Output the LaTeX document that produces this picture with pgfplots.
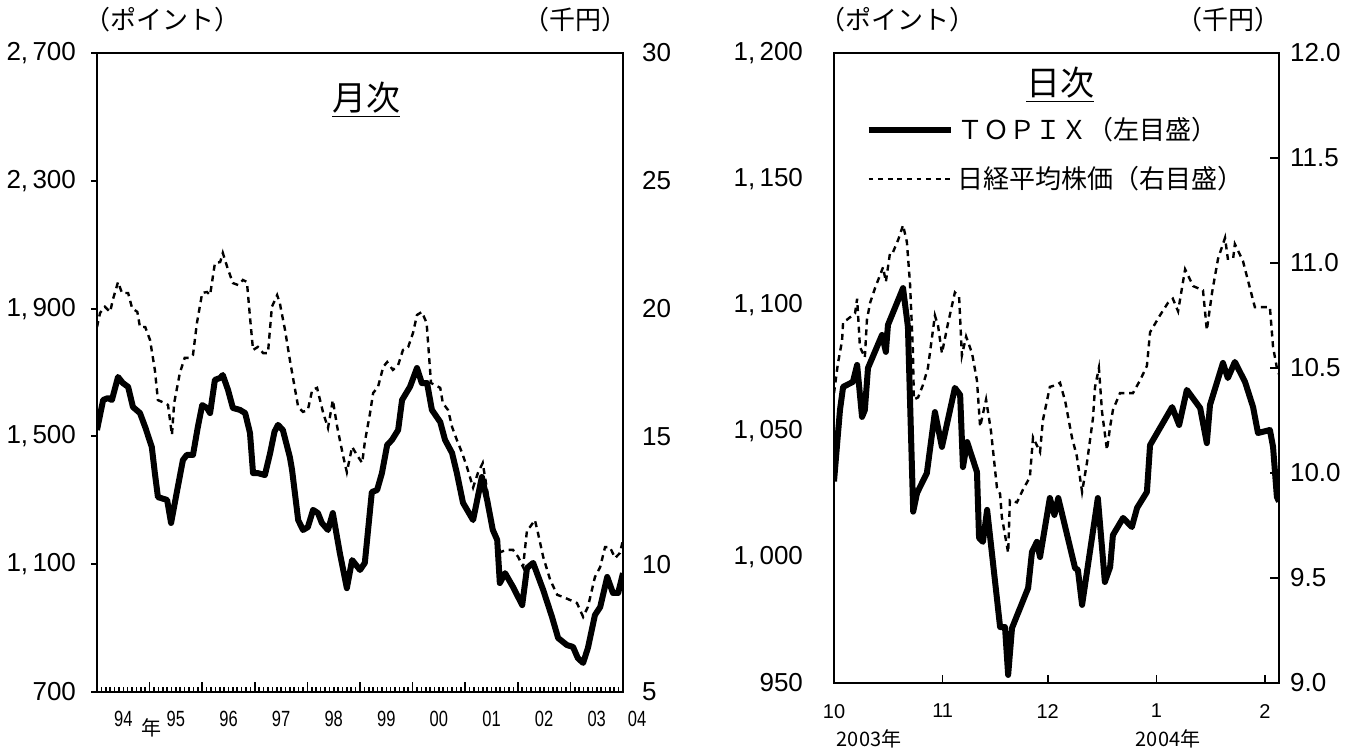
\documentclass[border=0pt]{standalone}
\usepackage{pgfplots}
\pgfplotsset{compat=1.18}
\usepackage{graphicx}
\usepackage{fontspec}
\setmainfont{Liberation Sans}
\newfontfamily\jp{Noto Sans CJK JP}

\newcommand\sq[1]{\scalebox{0.75}[1]{#1}}

\pgfplotsset{
  base/.style={scale only axis, anchor=south west,
    axis line style={line width=1.4pt},
    tick label style={font=\fontsize{13}{13}\selectfont},
    /pgf/number format/assume math mode=true,
    /pgf/number format/1000 sep={,\,}},
  topix/.style={black, line width=3pt, line join=round},
  nikkei/.style={black, line width=1.2pt, dash pattern=on 3pt off 2.4pt},
}

\begin{document}
\begin{tikzpicture}
\useasboundingbox (0,0) rectangle (677pt,374.5pt);

% ---- monthly (left) ----
\begin{axis}[base, at={(48.5pt,28.5pt)}, width=263pt, height=319.5pt,
  xmin=0, xmax=120, ymin=700, ymax=2700,
  xtick=\empty, ytick={700,1100,...,2700}, ytick pos=left,
  tick align=outside, major tick length=3pt,
  ytick style={line width=1pt, black},
  yticklabel style={xshift=-4pt}]
\addplot[topix] coordinates {
(0,1520) (1.4,1614) (2.5,1620) (3.4,1614) (4.8,1686) (5.9,1667) (7.1,1655)
(8.2,1592) (9.8,1573) (11,1529) (12.5,1467) (13.2,1385) (13.9,1310) (16,1301)
(16.9,1229) (18.3,1332) (19.6,1426) (20.5,1442) (21.9,1442) (23,1529) (24,1598)
(25.1,1589) (25.8,1573) (26.9,1677) (28.1,1683) (28.7,1692) (29.9,1645) (31,1589)
(32.6,1583) (33.8,1573) (34.9,1511) (35.6,1385) (36.7,1385) (38.3,1379) (39.5,1448)
(40.5,1515) (41.3,1536) (42.4,1520) (44,1435) (44.5,1395) (45.9,1238) (47,1207)
(48.1,1216) (49.3,1270) (50.4,1260) (51.3,1229) (52.7,1207) (53.8,1260) (55.4,1135)
(57,1025) (58.2,1113) (60,1082) (61.1,1104) (62.7,1326) (63.9,1332) (65,1385)
(66.2,1473) (67.3,1489) (68.7,1520) (69.6,1614) (71.4,1655) (73,1714) (74.1,1667)
(75.3,1667) (76.4,1583) (78.3,1545) (79.4,1489) (81,1448) (82.1,1385) (83.5,1292)
(85.8,1238) (87.8,1373) (89,1301) (90.3,1207) (91.3,1176) (91.9,1041) (93.1,1072)
(94.9,1029) (97,972) (98.1,1088) (99.5,1104) (101.8,1019) (103.8,935) (105.2,869)
(107.2,847) (108.6,841) (109.7,806) (110.9,791) (112,838) (113.6,941) (114.8,966)
(116.4,1060) (117.7,1010) (118.9,1010) (120,1072)};
\end{axis}

\begin{axis}[base, at={(48.5pt,28.5pt)}, width=263pt, height=319.5pt,
  xmin=0, xmax=120, ymin=5, ymax=30, clip mode=individual,
  axis y line*=right, axis x line*=bottom,
  ytick={5,10,...,30}, ytick style={draw=none},
  yticklabel style={xshift=6pt},
  xtick={0,12,...,120}, minor x tick num=11, xticklabels={},
  tick align=inside, major tick length=5pt, minor tick length=2.5pt,
  xtick style={line width=0.8pt, black},
  extra x ticks={6,18,...,114},
  extra x tick labels={\sq{94},\sq{95},\sq{96},\sq{97},\sq{98},\sq{99},\sq{00},\sq{01},\sq{02},\sq{03}},
  extra x tick style={tick style={draw=none},
    xticklabel style={yshift=-6pt, font=\fontsize{11}{11}\selectfont}}]
\addplot[nikkei] coordinates {
(0,19.28) (0.7,19.83) (1.8,20.07) (3,19.87) (3.6,20.34) (4.8,21.04) (5.7,20.61)
(7.1,20.61) (8,20.02) (9.2,19.87) (9.8,19.28) (11,19.28) (12.1,18.77) (13.2,17.6)
(13.9,16.42) (15.5,16.3) (16.2,16.23) (17.1,15.06) (17.6,16.3) (18.9,17.48) (20,18.07)
(21.2,18.07) (21.9,18.19) (22.8,19.44) (24,20.61) (25.1,20.65) (25.8,20.53) (26.9,21.78)
(28.1,21.82) (28.7,22.18) (29.7,21.63) (31,21) (32.2,20.92) (33.3,21.12) (34.2,21.04)
(34.9,19.67) (35.6,18.38) (36.7,18.5) (37.9,18.26) (39,18.26) (39.9,20.07) (41.1,20.53)
(41.7,20.22) (42.9,19.16) (44,17.99) (45.2,16.82) (45.9,16.15) (47,15.96) (48.1,16.03)
(49.1,16.82) (50.2,16.9) (51.6,15.92) (52.7,15.33) (53.8,16.42) (54.8,15.37) (56.1,14.27)
(57,13.6) (58.2,14.59) (59.3,14.27) (60.5,13.96) (61.1,14.78) (62.3,15.92) (63,16.7)
(64.1,16.93) (65.3,17.72) (66.2,17.91) (67.5,17.6) (68.7,17.79) (69.8,18.38) (71,18.5)
(72.1,19.05) (73,19.75) (74.1,19.87) (75.2,19.44) (76.2,17.09) (77.1,17.01) (78.3,16.9)
(78.9,16.3) (80.1,16.03) (81,15.37) (82.1,14.86) (83.3,14.35) (84.4,13.8) (85.8,13)
(86.9,13.57) (88,13.96) (89,12.9) (90.3,11.46) (91.5,10.44) (93.4,10.56) (94.9,10.56)
(96.1,10.28) (97.2,9.89) (98.1,11.34) (98.8,11.46) (99.9,11.73) (100.6,11.22) (101.8,10.28)
(103.4,9.38) (105,8.8) (106.3,8.72) (107.9,8.6) (109.5,8.48) (110.9,7.94) (112,8.33)
(113.6,9.5) (114.8,9.89) (115.9,10.67) (117,10.67) (118.2,10.24) (119.3,10.44) (120,10.95)};
\node[font=\jp\fontsize{10}{10}\selectfont, anchor=north] at (rel axis cs:0.1,0) [xshift=1pt, yshift=-10pt] {年};
\node[font=\fontsize{11}{11}\selectfont, anchor=north] at (rel axis cs:1,0) [xshift=7pt, yshift=-6pt] {\sq{04}};
\end{axis}

% ---- daily (right) ----
\begin{axis}[base, at={(417pt,33pt)}, width=222.5pt, height=315pt,
  xmin=0, xmax=127, ymin=950, ymax=1200,
  ytick={950,1000,...,1200}, ytick pos=left, ytick style={draw=none},
  yticklabel style={xshift=-12pt},
  xtick={0,31,61,92,123}, xticklabels={10,11,12,1,2}, xtick pos=bottom,
  tick align=inside, major tick length=4pt,
  xtick style={line width=0.8pt, black},
  xticklabel style={yshift=-7pt, font=\fontsize{10}{10}\selectfont},
  legend style={draw=none, fill=none, at={(0.07,0.905)}, anchor=north west,
    inner sep=0pt, row sep=8pt, font=\jp\fontsize{13}{13}\selectfont},
  legend cell align=left,
  legend image code/.code={\draw[#1] (0pt,0pt) -- (41pt,0pt);}]
\addplot[topix] coordinates {
(0,1030) (1.7,1058.3) (2.6,1067.5) (5.4,1069.5) (6.6,1076.2) (8,1055.6) (8.8,1058.3)
(9.7,1075) (13.7,1088.1) (14.8,1081.4) (15.4,1092.1) (19.7,1106.7) (21.1,1091.3)
(22.6,1018) (23.7,1025.4) (26.5,1033.3) (28.8,1057.5) (30.8,1043.7) (34.5,1067.1)
(36,1064.3) (36.8,1035.7) (38,1045.6) (40.8,1033.7) (41.4,1007.6) (42.5,1006)
(43.7,1018.7) (47.4,972.2) (48.8,972.2) (49.7,953.2) (50.8,971.8) (55.4,987.7)
(56.5,1002) (57.9,1006) (58.8,1000) (61.6,1023.4) (62.9,1016.7) (64,1023.4)
(68.8,995.6) (69.6,994.9) (70.8,981) (75.3,1023.4) (77.3,990.1) (78.8,996)
(79.6,1008.7) (82.5,1015.5) (85,1011.9) (86.5,1019.5) (89.3,1025.8) (90.2,1044.4)
(96.5,1059.5) (98.5,1052.4) (100.7,1066.3) (104.5,1059.1) (106.4,1045.2) (107.3,1060.3)
(111,1077) (112.4,1071) (114.4,1077.4) (117.3,1069.5) (119.6,1059.5) (121,1049.2)
(124.4,1050.4) (125.3,1043.7) (126.4,1023.8) (127,1022)};
\addlegendentry{ＴＯＰＩＸ（左目盛）}
\addlegendimage{nikkei, dash pattern=on 2.4pt off 2.4pt}
\addlegendentry{日経平均株価（右目盛）}
\end{axis}

\begin{axis}[base, at={(417pt,33pt)}, width=222.5pt, height=315pt,
  xmin=0, xmax=127, ymin=9, ymax=12,
  axis y line*=right, axis x line=none,
  ytick={9,9.5,...,12}, tick align=inside, major tick length=4.5pt,
  ytick style={line width=0.8pt, black},
  yticklabel style={xshift=2pt, /pgf/number format/.cd, fixed, fixed zerofill, precision=1}]
\addplot[nikkei] coordinates {
(0,10.38) (1.1,10.52) (2.3,10.63) (2.6,10.72) (3.7,10.73) (6,10.76) (6.6,10.83)
(7.4,10.6) (8.8,10.55) (9.4,10.73) (10.3,10.81) (11.7,10.88) (14,10.98) (14.8,10.91)
(16,11.05) (16.8,11.05) (18.3,11.11) (19.7,11.18) (20.8,11.1) (21.7,10.9) (22.5,10.59)
(22.8,10.35) (24,10.36) (25.4,10.42) (26.8,10.5) (28,10.65) (28.8,10.75) (29.7,10.7)
(30.8,10.57) (32.5,10.71) (34.5,10.86) (35.7,10.84) (36.5,10.56) (37.7,10.65) (39.4,10.57)
(40.8,10.44) (41.7,10.22) (43.4,10.35) (44.8,10.2) (46.5,9.93) (47.4,9.9) (47.9,9.79)
(49.7,9.62) (50.2,9.87) (52.2,9.86) (53.9,9.92) (55.9,9.98) (56.8,10.17) (58.8,10.1)
(59.6,10.25) (61.6,10.41) (63.6,10.42) (64.5,10.43) (66,10.34) (67.9,10.17) (69.3,10.08)
(70.8,9.91) (72.2,10.05) (73.9,10.26) (74.5,10.41) (75.6,10.5) (76.5,10.29) (77.9,10.11)
(78.8,10.22) (79.6,10.3) (81.6,10.38) (85.3,10.38) (87.3,10.44) (89.3,10.51) (90.2,10.67)
(93,10.75) (95.3,10.81) (96.7,10.83) (98.2,10.77) (100.2,10.97) (102.5,10.89) (105.3,10.87)
(106.4,10.68) (107.9,10.86) (109.6,11.02) (111.6,11.12) (112.4,11.02) (113.9,11.02)
(114.4,11.09) (116.7,11.01) (120.1,10.79) (124.4,10.79) (125.3,10.6) (126.4,10.5) (127,10.47)};
\end{axis}

% ---- texts ----
\begin{scope}[every node/.style={font=\jp\fontsize{13}{13}\selectfont}]
\node at (81pt,364.5pt) {（ポイント）};
\node at (287.5pt,364.5pt) {（千円）};
\node at (448.5pt,364.5pt) {（ポイント）};
\node at (614pt,364.5pt) {（千円）};
\node[font=\jp\fontsize{17}{17}\selectfont] at (183pt,324.5pt) {\underline{月次}};
\node[font=\jp\fontsize{17}{17}\selectfont] at (530pt,332pt) {\underline{日次}};
\node[font=\jp\fontsize{10}{10}\selectfont] at (434.5pt,5pt) {2003年};
\node[font=\jp\fontsize{10}{10}\selectfont] at (584pt,5pt) {2004年};
\end{scope}
\end{tikzpicture}
\end{document}
